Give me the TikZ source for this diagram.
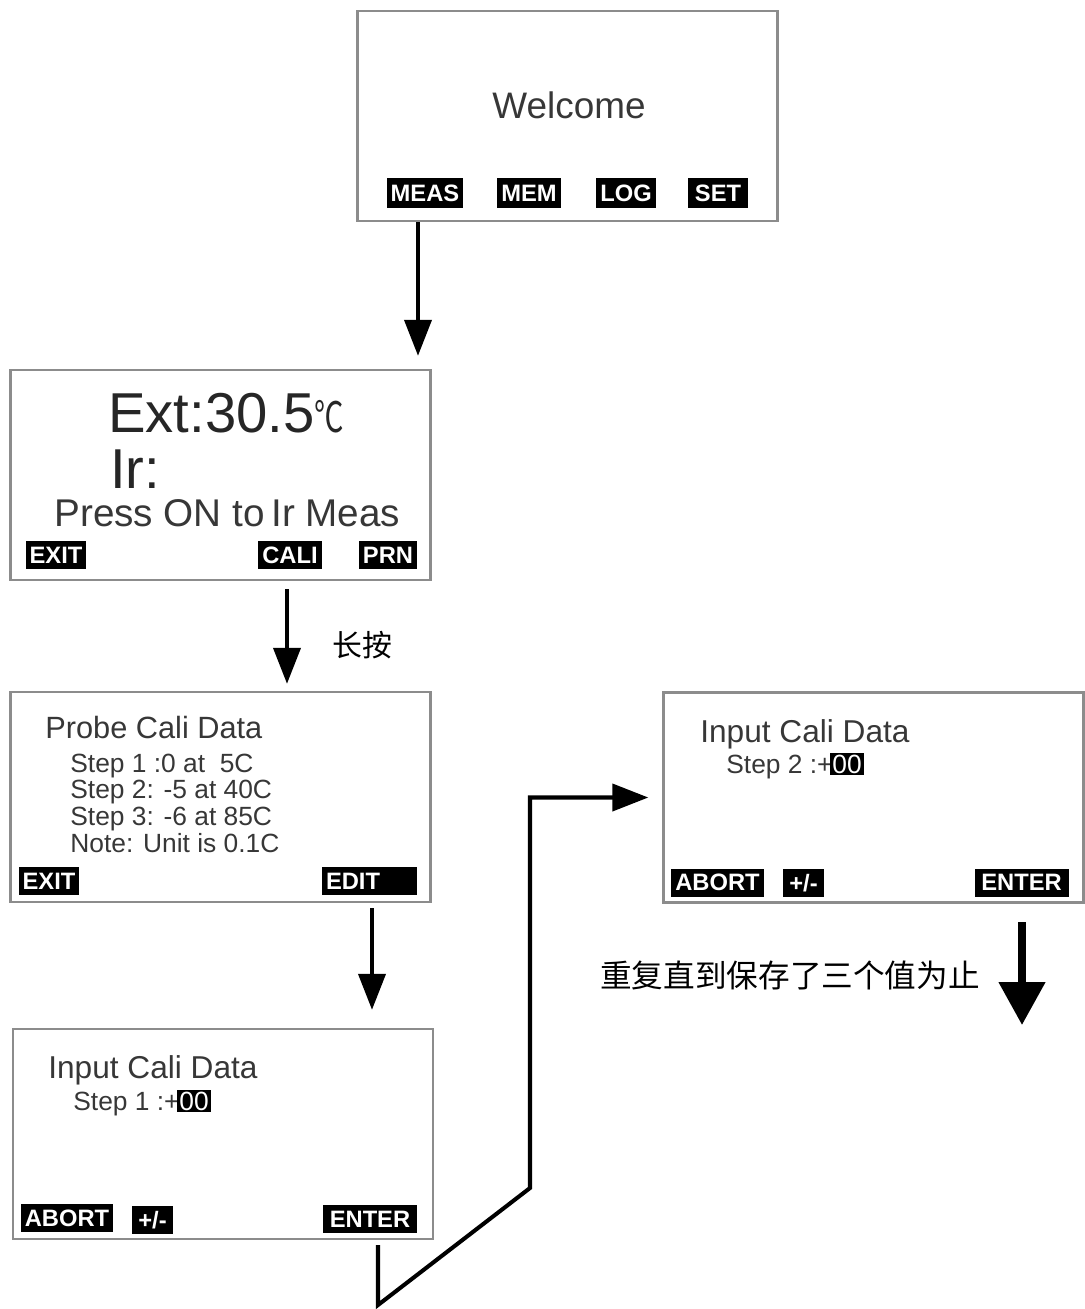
\documentclass[tikz,border=0pt]{standalone}
\usepackage{fontspec}
\setmainfont{Liberation Sans}
\newfontfamily\cjk{Noto Sans CJK SC}
\usetikzlibrary{arrows.meta}
\definecolor{lcdtext}{RGB}{55,55,55}
\definecolor{lcdframe}{RGB}{140,140,140}
\tikzset{
  screen/.style={draw=lcdframe, line width=1.4pt, minimum width=8.4cm, minimum height=4.2cm, inner sep=0pt},
  softkey/.style={fill=black, text=white, font=\fontsize{13.5}{13.5}\selectfont\bfseries, inner xsep=0.08cm, inner ysep=0pt, minimum height=0.56cm},
  lcd/.style={inner sep=0pt, text=lcdtext, anchor=base west},
  valbox/.style={fill=black, text=white, inner xsep=1.5pt, inner ysep=1pt, anchor=base west, font=\fontsize{15}{15}\selectfont},
  flow/.style={line width=2.3pt, -{Triangle[width=0.54cm,length=0.72cm]}},
  bigflow/.style={line width=4.5pt, -{Triangle[width=0.9cm,length=0.86cm]}},
  cjknote/.style={inner sep=0pt, font=\cjk\fontsize{17}{17}\selectfont},
}
\begin{document}
\begin{tikzpicture}[x=0.02cm, y=-0.02cm]
  \useasboundingbox (0,0) rectangle (1085,1309);

  % welcome screen
  \node[screen] (welcome) at (567.5,116) {};
  \node[lcd, anchor=base, font=\fontsize{21}{21}\selectfont] (welcometxt) at (569,118) {Welcome};
  \node[softkey, minimum height=0.6cm] (meas) at (425,193) {MEAS};
  \node[softkey, minimum height=0.6cm] (mem) at (529,193) {MEM};
  \node[softkey, minimum height=0.6cm] (log) at (626,193) {LOG};
  \node[softkey, minimum height=0.6cm, minimum width=1.2cm] (set) at (718,193) {SET};

  % measuring screen
  \node[screen] (ext) at (220.5,475) {};
  \node[lcd, text=black!85, font=\fontsize{32}{32}\selectfont] (extval) at (108,432) {Ext:30.5\scalebox{0.7}[1]{\cjk\fontsize{24}{24}\selectfont ℃}};
  \node[lcd, text=black!85, font=\fontsize{32}{32}\selectfont] (irval) at (110,488) {Ir:};
  \node[lcd, font=\fontsize{22}{22}\selectfont] (presson) at (54,526) {Press ON to\,Ir Meas};
  \node[softkey] (extexit) at (56,555) {EXIT};
  \node[softkey] (cali) at (290,555) {CALI};
  \node[softkey] (prn) at (388,555) {PRN};

  % probe data screen
  \node[screen] (probe) at (220.5,797) {};
  \node[lcd, font=\fontsize{17.5}{17.5}\selectfont] (probetitle) at (45,738) {Probe Cali Data};
  \node[lcd, font=\fontsize{15}{15}\selectfont] (pstep1) at (70,772) {Step 1 :0 at \ 5C};
  \node[lcd, font=\fontsize{15}{15}\selectfont] (pstep2) at (70,798) {Step 2: -5 at 40C};
  \node[lcd, font=\fontsize{15}{15}\selectfont] (pstep3) at (70,825) {Step 3: -6 at 85C};
  \node[lcd, font=\fontsize{15}{15}\selectfont] (pnote) at (70,852) {Note: Unit is 0.1C};
  \node[softkey] (probeexit) at (49,881) {EXIT};
  \node[softkey, text width=1.74cm, align=left] (edit) at (369.5,881) {EDIT};

  % input screen, step 1
  \node[screen] (input1) at (223,1134) {};
  \node[lcd, font=\fontsize{18}{18}\selectfont] (in1title) at (48,1078) {Input Cali Data};
  \node[lcd, font=\fontsize{15}{15}\selectfont] (in1step) at (73,1110) {Step 1 :+};
  \node[valbox] (in1val) at ([xshift=-2pt]in1step.base east) {00};
  \node[softkey] (abort1) at (67,1218) {ABORT};
  \node[softkey, minimum width=0.82cm] (sign1) at (152.5,1220) {+/-};
  \node[softkey, minimum width=1.88cm] (enter1) at (370,1219) {ENTER};

  % input screen, step 2
  \node[screen] (input2) at (873.5,797.5) {};
  \node[lcd, font=\fontsize{18}{18}\selectfont] (in2title) at (700,742) {Input Cali Data};
  \node[lcd, font=\fontsize{15}{15}\selectfont] (in2step) at (726,773) {Step 2 :+};
  \node[valbox] (in2val) at ([xshift=-2pt]in2step.base east) {00};
  \node[softkey] (abort2) at (717.5,882.5) {ABORT};
  \node[softkey, minimum width=0.82cm] (sign2) at (803.5,883) {+/-};
  \node[softkey, minimum width=1.88cm] (enter2) at (1021.5,882.5) {ENTER};

  % labels
  \node[cjknote] (longpress) at (362,645) {长按};
  \node[cjknote, font=\cjk\fontsize{18}{18}\selectfont] (repeat) at (790,975) {重复直到保存了三个值为止};

  % arrows
  \draw[flow, shorten >=0.26cm] (welcome.south -| 418,0) -- (ext.north -| 418,0);
  \draw[flow, shorten <=0.16cm, shorten >=0.14cm] (ext.south -| 287,0) -- (probe.north -| 287,0);
  \draw[flow, shorten <=0.1cm, shorten >=0.36cm] (probe.south -| 372,0) -- (input1.north -| 372,0);
  \draw[flow, shorten <=0.1cm, shorten >=0.28cm] (input1.south -| 378,0) -- (378,1305) -- (530,1188)
    -- (530,0 |- input2.west) -- (input2.west);
  \coordinate (reptop) at (1022,922);
  \coordinate (repbot) at (1022,1025);
  \draw[bigflow] (reptop) -- (repbot);
\end{tikzpicture}
\end{document}
